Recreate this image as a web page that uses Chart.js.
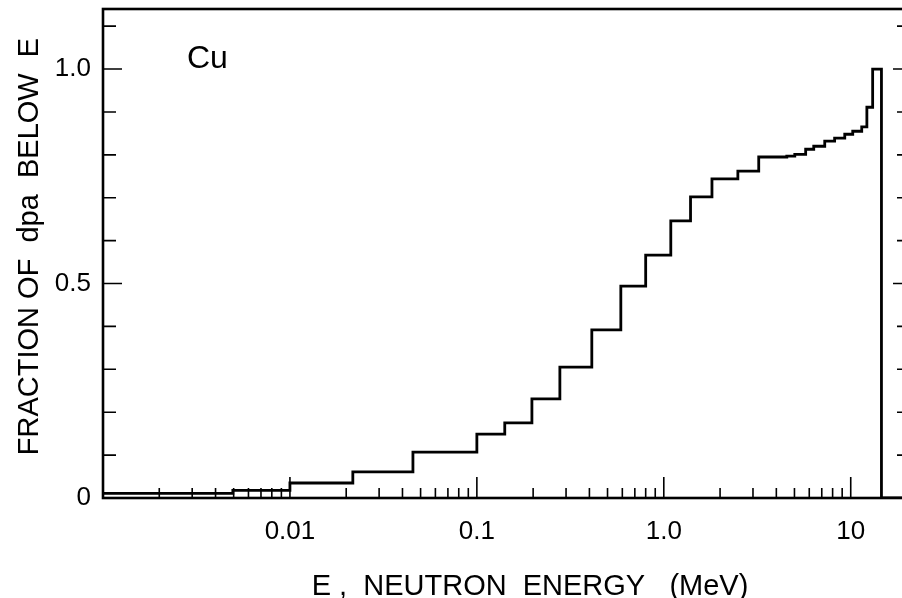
<!DOCTYPE html>
<html>
<head>
<meta charset="utf-8">
<script src="https://cdn.jsdelivr.net/npm/chart.js@4.4.1/dist/chart.umd.min.js"></script>
<style>
  html, body { margin: 0; padding: 0; background: #fff; overflow: hidden; }
  #wrap { width: 912px; height: 598px; }
</style>
</head>
<body>
<div id="wrap"><canvas id="c" width="912" height="598"></canvas></div>
<script>
// Cumulative fraction of dpa produced below energy E (Cu, 14 MeV neutron spectrum).
// Each fraction holds from its energy edge up to the next edge.
const energyEdges = [0.001, 0.00495, 0.01, 0.0217, 0.0455, 0.1, 0.141, 0.197, 0.278, 0.412,
                     0.589, 0.80, 1.09, 1.39, 1.81, 2.49, 3.22, 4.55, 5.02, 5.74,
                     6.34, 7.26, 8.2, 9.29, 10.25, 11.45, 12.2, 13.1, 14.6, 20];
const dpaFraction = [0.011, 0.018, 0.035, 0.061, 0.107, 0.149, 0.175, 0.231, 0.305, 0.392,
                     0.494, 0.566, 0.646, 0.702, 0.744, 0.762, 0.795, 0.797, 0.801, 0.813,
                     0.820, 0.832, 0.839, 0.848, 0.855, 0.865, 0.911, 1.0, 0, 0];

const xTickValues = [0.01, 0.1, 1, 10];
const xTickLabels = ['0.01', '0.1', '1.0', '10'];
const yTickValues = [0, 0.5, 1.0];
const yTickLabels = ['0', '0.5', '1.0'];
const xRange = [0.001, 20];
const yRange = [0, 1.14];

const xTitle = 'E ,  NEUTRON  ENERGY   (MeV)';
const yTitle = 'FRACTION OF  dpa  BELOW  E';
const panelLabel = 'Cu';

const FONT = '"Liberation Sans", Arial, sans-serif';

// Frame, inward tick marks, axis titles and the element label.
const framePlugin = {
  id: 'frame',
  afterDraw(chart) {
    const { ctx, chartArea: a, scales: { x, y } } = chart;
    ctx.save();
    ctx.strokeStyle = '#000';
    ctx.fillStyle = '#000';
    ctx.lineWidth = 2.6;
    ctx.strokeRect(a.left, a.top, a.right - a.left, a.bottom - a.top);

    ctx.lineWidth = 1.6;
    ctx.beginPath();
    for (let i = 0; i <= 11; i++) {
      const py = y.getPixelForValue(i / 10);
      const major = i % 5 === 0;
      ctx.moveTo(a.left, py);  ctx.lineTo(a.left + (major ? 19 : 13), py);
      ctx.moveTo(a.right, py); ctx.lineTo(a.right - (major ? 14 : 10), py);
    }
    for (let k = -3; k <= 1; k++) {
      for (let m = 1; m <= 9; m++) {
        const v = m * Math.pow(10, k);
        if (v <= xRange[0] * 1.0001 || v > xRange[1]) continue;
        const px = x.getPixelForValue(v);
        ctx.moveTo(px, a.bottom); ctx.lineTo(px, a.bottom - (m === 1 ? 21 : 10));
      }
    }
    ctx.stroke();

    ctx.font = '29px ' + FONT;
    ctx.textAlign = 'center';
    ctx.textBaseline = 'alphabetic';
    ctx.fillText(xTitle, (a.left + a.right) / 2 + 25, chart.height - 3);

    ctx.save();
    ctx.translate(38, (a.top + a.bottom) / 2 - 7);
    ctx.rotate(-Math.PI / 2);
    ctx.fillText(yTitle, 0, 0);
    ctx.restore();

    ctx.font = '32px ' + FONT;
    ctx.textAlign = 'left';
    ctx.fillText(panelLabel, a.left + 84, a.top + 59);
    ctx.restore();
  }
};

new Chart(document.getElementById('c'), {
  type: 'line',
  data: {
    datasets: [{
      data: energyEdges.map((e, i) => ({ x: e, y: dpaFraction[i] })),
      stepped: true,
      borderColor: '#000',
      borderWidth: 2.8,
      pointRadius: 0,
      fill: false
    }]
  },
  options: {
    responsive: false,
    animation: false,
    devicePixelRatio: 1,
    layout: { padding: { top: 9, right: 5, left: 0, bottom: 0 } },
    plugins: { legend: { display: false }, tooltip: { enabled: false } },
    scales: {
      x: {
        type: 'logarithmic',
        min: xRange[0],
        max: xRange[1],
        grid: { display: false },
        border: { display: false },
        afterFit(s) { s.height = 100; s.paddingLeft = 0; s.paddingRight = 0; },
        afterBuildTicks(s) { s.ticks = xTickValues.map(v => ({ value: v })); },
        ticks: {
          padding: 10,
          color: '#000',
          maxRotation: 0,
          autoSkip: false,
          font: { family: FONT, size: 26 },
          callback: (v, i) => xTickLabels[i]
        }
      },
      y: {
        type: 'linear',
        min: yRange[0],
        max: yRange[1],
        grid: { display: false },
        border: { display: false },
        afterFit(s) { s.width = 103; s.paddingTop = 0; s.paddingBottom = 0; },
        afterBuildTicks(s) { s.ticks = yTickValues.map(v => ({ value: v })); },
        ticks: {
          padding: 4,
          color: '#000',
          autoSkip: false,
          font: { family: FONT, size: 26 },
          callback: (v, i) => yTickLabels[i]
        }
      }
    }
  },
  plugins: [framePlugin]
});
</script>
</body>
</html>
